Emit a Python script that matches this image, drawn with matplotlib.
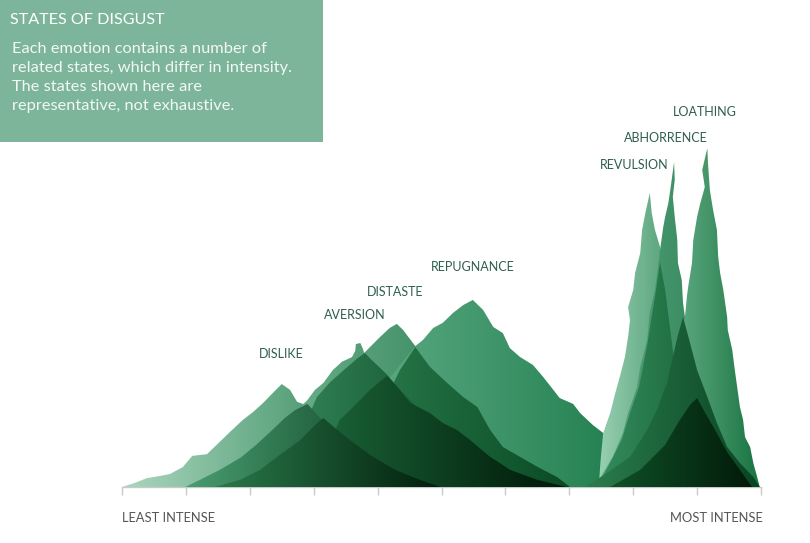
import numpy as np
import matplotlib
matplotlib.use("Agg")
import matplotlib.pyplot as plt
from matplotlib.patches import Polygon, Rectangle
from matplotlib.colors import LinearSegmentedColormap

plt.rcParams['font.family'] = ['Lato', 'DejaVu Sans']

# ---------------- data (x: intensity 0-100, y: strength 0-100) ----------------
states = ["DISLIKE", "AVERSION", "DISTASTE", "REPUGNANCE", "REVULSION", "ABHORRENCE", "LOATHING"]

# outer (light) profiles
dislike_x = [0, 2.0, 3.9, 5.9, 7.5, 9.5, 11.0, 13.3, 15.3, 16.9, 18.9, 20.5, 22.1, 23.6, 25.0, 26.3, 27.4, 28.3, 30.7, 33.3, 36.5, 40.4, 45.1]
dislike_y = [0, 1.2, 2.6, 3.2, 3.8, 5.8, 9.1, 9.6, 13.2, 16.1, 19.6, 21.9, 24.6, 27.5, 30.1, 28.4, 24.9, 24.3, 19.6, 13.7, 8.5, 3.5, 0]

aversion_x = [9.9, 12.2, 14.6, 16.9, 19.3, 21.6, 23.9, 26.3, 27.9, 29.0, 30.2, 31.5, 33.0, 34.4, 36.0, 36.5, 36.6, 37.3, 37.7, 37.9, 39.6, 41.9, 45.1, 48.2, 52.1, 56.0, 59.2]
aversion_y = [0, 1.8, 3.8, 6.1, 9.1, 12.3, 16.1, 20.2, 23.4, 25.4, 28.4, 30.4, 34.2, 36.6, 38.0, 39.8, 41.8, 42.1, 40.4, 39.2, 36.6, 31.3, 25.4, 19.6, 12.3, 5.0, 0]

distaste_x = [18.5, 22.4, 26.3, 29.4, 32.6, 35.7, 37.9, 38.8, 40.4, 41.9, 43.0, 44.0, 44.8, 45.9, 48.2, 51.3, 55.2, 59.2, 63.9]
distaste_y = [0, 7.3, 15.2, 22.5, 29.8, 35.7, 39.2, 40.9, 43.9, 46.5, 47.7, 45.9, 43.9, 41.2, 35.7, 28.4, 19.6, 10.8, 0]

repugnance_x = [27.9, 29.4, 33.3, 37.3, 40.4, 43.5, 45.9, 47.1, 48.7, 50.2, 51.8, 53.4, 54.9, 56.5, 58.1, 59.6, 60.7, 62.3, 64.3, 65.9, 67.5, 68.5, 70.6, 71.7, 73.7, 75.3, 77.2, 79.5, 81.9]
repugnance_y = [0, 3.5, 12.3, 21.1, 28.4, 35.7, 41.2, 43.0, 46.5, 48.0, 50.9, 53.2, 54.7, 51.8, 46.8, 45.0, 40.6, 38.0, 35.7, 32.2, 28.4, 26.0, 24.3, 21.6, 18.1, 15.8, 10.8, 5.0, 0]

revulsion_x = [74.6, 74.9, 75.3, 76.4, 77.2, 77.9, 78.7, 79.2, 79.5, 79.2, 80.0, 80.3, 81.1, 81.4, 81.9, 82.6, 82.9, 83.4, 84.2, 85.5, 86.5, 88.1, 90.5, 92.0]
revulsion_y = [0, 7.9, 15.8, 21.6, 27.5, 32.2, 38.0, 43.9, 48.8, 52.6, 57.6, 62.6, 68.4, 75.2, 80.1, 86.0, 80.1, 75.2, 70.2, 57.6, 43.0, 25.4, 7.9, 0]

abhorrence_x = [74.0, 75.6, 76.8, 78.4, 79.2, 80.6, 81.1, 82.2, 82.6, 83.4, 83.9, 84.2, 84.7, 85.0, 85.5, 85.8, 86.4, 86.5, 86.2, 86.5, 86.9, 87.0, 87.6, 87.8, 88.1, 89.2, 90.5, 92.0, 94.4, 96.7]
abhorrence_y = [0, 5.0, 8.8, 15.8, 21.6, 29.2, 35.1, 43.0, 50.9, 57.6, 64.3, 69.3, 76.0, 79.0, 83.0, 86.8, 95.0, 89.8, 84.8, 79.0, 72.2, 65.5, 60.5, 53.8, 49.7, 40.1, 28.4, 16.7, 5.0, 0]

loathing_x = [81.1, 81.9, 83.4, 85.0, 86.5, 87.6, 88.1, 88.4, 88.6, 89.2, 89.4, 90.0, 90.5, 91.2, 90.8, 91.6, 91.7, 92.0, 92.5, 93.1, 93.3, 93.6, 94.1, 94.7, 94.8, 95.5, 95.9, 96.4, 96.7, 97.2, 97.5, 98.3, 98.8, 99.4, 99.8]
loathing_y = [0, 5.0, 13.7, 25.4, 37.1, 46.8, 49.7, 55.6, 58.5, 65.5, 72.2, 79.0, 83.0, 87.7, 92.7, 99.1, 94.7, 86.8, 81.0, 75.2, 67.3, 62.6, 57.6, 49.7, 45.9, 40.1, 34.2, 27.5, 23.4, 19.6, 14.6, 11.7, 7.0, 2.9, 0]

# inner (darker) profiles
dislike_in1_x = [9.9, 12.2, 15.3, 18.5, 20.8, 23.2, 25.5, 27.1, 29.0, 30.2, 31.8, 34.1, 36.5, 38.8, 41.9, 45.1, 48.2]
dislike_in1_y = [0, 2.1, 5.0, 8.5, 12.0, 16.1, 20.2, 22.5, 24.3, 21.9, 18.4, 14.9, 11.7, 8.8, 5.9, 2.9, 0]
dislike_in2_x = [14.6, 18.5, 21.6, 24.7, 27.9, 30.2, 31.5, 33.3, 35.7, 38.8, 42.7, 46.6, 49.8]
dislike_in2_y = [0, 2.1, 5.0, 9.4, 13.7, 18.1, 20.2, 17.3, 13.7, 9.4, 5.0, 2.1, 0]
aversion_in1_x = [20.0, 23.2, 26.3, 28.6, 30.5, 32.6, 34.9, 36.9, 38.0, 39.1, 40.4, 41.5, 43.5, 46.6, 49.8, 52.9, 56.0, 59.2]
aversion_in1_y = [0, 5.0, 12.3, 18.1, 26.3, 30.7, 34.5, 37.7, 39.2, 37.1, 34.8, 32.8, 28.4, 22.5, 16.7, 10.8, 5.0, 0]
aversion_in2_x = [27.9, 31.0, 32.6, 34.1, 36.5, 38.8, 41.5, 43.5, 45.1, 48.2, 50.2, 52.4, 54.5, 57.6, 60.7, 63.9, 66.2]
aversion_in2_y = [0, 7.9, 13.7, 19.6, 24.0, 28.4, 32.5, 28.4, 24.6, 21.6, 18.7, 16.7, 13.7, 8.8, 5.0, 2.1, 0]
distaste_in1_x = [32.6, 35.7, 38.8, 41.2, 43.5, 45.9, 48.2, 50.9, 53.4, 55.6, 57.6, 59.6, 62.3, 65.0, 68.1, 70.1]
distaste_in1_y = [0, 7.9, 16.7, 25.4, 34.2, 40.9, 35.1, 30.4, 26.3, 23.4, 16.7, 11.7, 8.8, 5.9, 2.9, 0]
distaste_in2_x = [35.7, 40.4, 45.1, 49.8, 54.5, 57.6, 60.7, 65.0, 69.6]
distaste_in2_y = [0, 5.0, 9.4, 12.3, 12.0, 8.8, 5.0, 2.1, 0]
revulsion_in_x = [74.3, 76.2, 78.2, 79.5, 80.9, 82.2, 83.0, 83.7, 84.2, 85.0, 85.8, 86.4, 87.3, 89.2, 91.5, 93.9]
revulsion_in_y = [0, 6.4, 13.7, 21.6, 29.2, 41.5, 50.9, 59.1, 65.8, 57.6, 45.9, 37.1, 25.4, 13.7, 5.0, 0]
abhorrence_in1_x = [72.5, 75.9, 79.5, 82.2, 83.7, 85.3, 86.2, 87.0, 87.8, 88.9, 90.0, 91.6, 93.1, 94.7, 96.7, 98.8, 99.8]
abhorrence_in1_y = [0, 4.1, 8.8, 16.7, 22.5, 30.4, 38.0, 44.4, 49.7, 42.1, 34.2, 26.3, 18.7, 11.7, 7.0, 2.9, 0]
abhorrence_in2_x = [76.4, 81.1, 85.0, 87.3, 88.9, 90.0, 91.2, 92.8, 94.7, 96.7, 98.6]
abhorrence_in2_y = [0, 5.0, 12.3, 19.6, 24.0, 26.0, 21.9, 16.7, 10.2, 5.0, 0]

# one outer profile per labelled state
label_profiles = [(dislike_x, dislike_y), (aversion_x, aversion_y), (distaste_x, distaste_y),
                  (repugnance_x, repugnance_y), (revulsion_x, revulsion_y),
                  (abhorrence_x, abhorrence_y), (loathing_x, loathing_y)]

ticks = list(range(0, 101, 10))
axis_labels = ["LEAST INTENSE", "MOST INTENSE"]
title = "STATES OF DISGUST"
body = ["Each emotion contains a number of",
        "related states, which differ in intensity.",
        "The states shown here are",
        "representative, not exhaustive."]

# ---------------- style ----------------
layers = [
    # (x, y, left colour, right colour, zorder)
    (dislike_x, dislike_y, "#acd7bf", "#237f4f", 1),
    (aversion_x, aversion_y, "#8fc8aa", "#257c4e", 2),
    (distaste_x, distaste_y, "#7cbd9b", "#22764a", 3),
    (repugnance_x, repugnance_y, "#6cb690", "#1c7b4b", 4),
    (revulsion_x, revulsion_y, "#98cfb1", "#2f8659", 5),
    (abhorrence_x, abhorrence_y, "#5aa881", "#2a7d50", 6),
    (loathing_x, loathing_y, "#80c19e", "#187441", 7),
    (revulsion_in_x, revulsion_in_y, "#358c5d", "#155f35", 8),
    (abhorrence_in1_x, abhorrence_in1_y, "#2b7d4e", "#0a4423", 9),
    (abhorrence_in2_x, abhorrence_in2_y, "#0f5128", "#021a09", 10),
    (distaste_in1_x, distaste_in1_y, "#2e8252", "#0a4a24", 11),
    (aversion_in1_x, aversion_in1_y, "#3a9063", "#0a4421", 12),
    (distaste_in2_x, distaste_in2_y, "#0d4d26", "#021a0a", 13),
    (aversion_in2_x, aversion_in2_y, "#1d6a3c", "#021e0b", 14),
    (dislike_in1_x, dislike_in1_y, "#4a9d71", "#06391b", 15),
    (dislike_in2_x, dislike_in2_y, "#2a7a4b", "#021f0c", 16),
]

fig = plt.figure(figsize=(8.10, 5.43), dpi=100)
ax = fig.add_axes([122 / 810, 56 / 543, 639 / 810, 342 / 543])

grad = np.linspace(0, 1, 256).reshape(1, -1)
for xs, ys, c0, c1, z in layers:
    poly = Polygon(np.column_stack([xs, ys]), closed=True, facecolor="none", edgecolor="none")
    ax.add_patch(poly)
    cmap = LinearSegmentedColormap.from_list("g", [c0, c1])
    im = ax.imshow(grad, extent=[min(xs), max(xs), 0, max(ys)], origin="lower",
                   aspect="auto", cmap=cmap, zorder=z, interpolation="bilinear")
    im.set_clip_path(poly)

ax.set_xlim(0, 100)
ax.set_ylim(0, 100)
ax.set_aspect("auto")

for s in ["top", "left", "right"]:
    ax.spines[s].set_visible(False)
ax.spines["bottom"].set_color("#c9c9c9")
ax.spines["bottom"].set_linewidth(1.0)
ax.set_yticks([])
ax.set_xticks(ticks)
ax.set_xticklabels([])
ax.tick_params(axis="x", direction="out", length=6, width=1.0, color="#c9c9c9")
ax.patch.set_alpha(0)

# state labels
label_offsets = [(0, 22), (-4, 20), (-1, 23), (0, 24), (-11, 20), (-6, 17), (-2, 26)]
for name, (xs, ys), (dx, dy) in zip(states, label_profiles, label_offsets):
    i = int(np.argmax(ys))
    ax.annotate(name, (xs[i], ys[i]), xytext=(dx, dy), textcoords="offset points",
                ha="center", va="center", fontsize=9, color="#2e5f4c", zorder=20)

# axis end labels
ax.annotate(axis_labels[0], (0, 0), xytext=(0, -22), textcoords="offset points",
            ha="left", va="center", fontsize=9.3, color="#555555")
ax.annotate(axis_labels[1], (100, 0), xytext=(1, -22), textcoords="offset points",
            ha="right", va="center", fontsize=9.3, color="#555555")

# header box
fig.patches.append(Rectangle((0, 1 - 142 / 543), 323 / 810, 142 / 543, transform=fig.transFigure,
                             facecolor="#7db59a", edgecolor="none", zorder=0))
fig.text(10 / 810, 1 - 20 / 543, title, color="white", fontsize=11.6, ha="left", va="center")
for k, line in enumerate(body):
    fig.text(12 / 810, 1 - (49 + 19 * k) / 543, line, color="#f2f8f5", fontsize=11.8,
             ha="left", va="center")

fig.savefig("out.png", dpi=100)
